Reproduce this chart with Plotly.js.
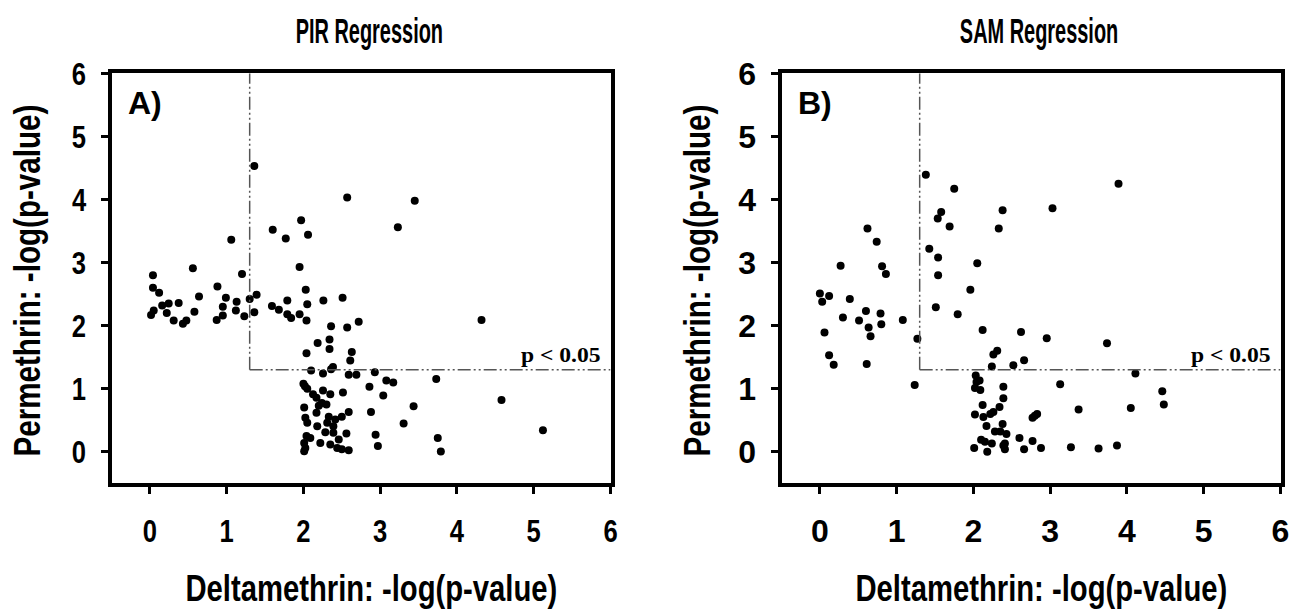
<!DOCTYPE html>
<html>
<head>
<meta charset="utf-8">
<script src="https://cdn.plot.ly/plotly-3.0.1.min.js"></script>
<style>html,body{margin:0;padding:0;background:#fff;}#chart{width:1291px;height:609px;}</style>
</head>
<body>
<div id="chart"></div>
<script>
// PIR regression (panel A): Deltamethrin -log(p) vs Permethrin -log(p)
const pirX = [1.36,2.57,1.97,1.60,1.77,2.06,1.06,1.95,0.56,0.04,1.20,3.45,3.23,0.04,0.12,0.88,0.64,0.99,1.13,1.30,
  1.39,0.375,0.245,0.16,0.05,0.015,0.22,0.31,0.43,0.475,0.58,0.95,0.95,0.87,1.12,1.23,1.36,1.59,1.68,1.79,
  1.79,1.84,1.95,2.03,2.05,2.04,2.26,2.51,2.36,2.57,2.72,2.185,2.34,2.34,2.04,2.63,2.61,2.10,2.255,2.36,
  2.385,2.59,2.69,2.93,2.00,2.02,2.05,2.86,3.08,3.17,2.255,2.125,2.17,2.35,2.24,2.20,2.30,2.515,3.04,3.435,
  2.01,2.17,2.59,2.88,2.025,2.33,2.415,2.50,2.05,2.18,2.31,2.39,3.305,2.285,2.39,2.56,2.94,2.04,2.09,2.01,
  2.22,2.35,2.46,2.025,2.01,2.44,2.50,2.59,2.97,3.73,4.32,4.58,3.75,3.79,5.12];
const pirY = [4.53,4.03,3.67,3.52,3.38,3.44,3.36,2.93,2.91,2.80,2.82,3.98,3.56,2.60,2.52,2.62,2.46,2.44,2.38,2.42,
  2.49,2.36,2.35,2.32,2.24,2.17,2.20,2.08,2.03,2.08,2.22,2.30,2.16,2.09,2.24,2.15,2.21,2.31,2.25,2.40,
  2.18,2.12,2.18,2.57,2.34,2.08,2.40,2.44,1.99,1.97,2.06,1.725,1.78,1.63,1.56,1.58,1.445,1.29,1.24,1.31,
  1.345,1.22,1.22,1.26,1.08,1.04,1.00,1.03,1.13,1.10,0.97,0.91,0.855,0.91,0.775,0.73,0.75,0.94,0.89,0.72,
  0.70,0.62,0.63,0.63,0.54,0.555,0.51,0.555,0.46,0.405,0.46,0.405,0.45,0.31,0.30,0.29,0.27,0.25,0.22,0.14,
  0.14,0.115,0.195,0.06,0.01,0.06,0.04,0.025,0.09,1.155,2.09,0.82,0.22,0.005,0.34];

// SAM regression (panel B)
const samX = [1.38,1.75,2.38,2.33,1.58,1.535,1.69,0.62,0.74,1.425,1.54,2.05,0.27,0.81,0.86,1.54,3.89,3.03,0.00,0.03,
  0.12,0.39,1.96,1.51,1.795,0.30,0.51,0.60,0.635,0.66,0.79,0.80,1.08,0.06,0.12,0.18,0.61,1.27,1.235,2.12,
  2.62,2.31,2.26,2.24,2.52,2.66,2.03,2.04,2.02,2.09,2.39,2.39,2.12,2.34,2.02,2.13,2.22,2.17,2.38,2.28,
  2.35,2.43,2.60,2.10,2.15,2.24,2.39,2.41,2.01,2.18,2.66,2.955,3.13,3.37,2.26,2.83,2.80,2.77,2.77,2.88,
  3.27,3.74,4.11,4.46,4.48,4.05,3.63,3.87,2.08,2.41];
const samY = [4.39,4.17,3.83,3.54,3.80,3.70,3.57,3.54,3.33,3.22,3.08,2.99,2.95,2.94,2.82,2.80,4.25,3.86,2.51,2.38,
  2.47,2.42,2.57,2.29,2.18,2.13,2.08,2.23,1.97,1.83,2.19,2.02,2.09,1.89,1.53,1.38,1.39,1.79,1.06,1.93,
  1.90,1.60,1.54,1.35,1.37,1.45,1.21,1.105,1.01,0.98,1.03,0.85,0.74,0.71,0.59,0.55,0.60,0.41,0.44,0.32,
  0.32,0.28,0.22,0.19,0.16,0.13,0.10,0.04,0.06,0.00,0.04,1.80,1.07,0.67,0.63,0.60,0.57,0.54,0.17,0.06,
  0.07,1.72,1.24,0.96,0.75,0.695,0.05,0.10,1.13,0.13];

const panelTitles = ["PIR Regression", "SAM Regression"];
const panelLetters = ["A)", "B)"];
const xTitle = "Deltamethrin: -log(p-value)";
const yTitle = "Permethrin: -log(p-value)";
const tickVals = [0,1,2,3,4,5,6];
const tickText = ["0","1","2","3","4","5","6"];
const threshold = 1.3;
const thresholdLabel = "p < 0.05";

const SANS = "Liberation Sans, Arial, sans-serif";
const SERIF = "Liberation Serif, Times New Roman, serif";

const xDom = [[111.5/1291, 610.5/1291],[781.5/1291, 1280.5/1291]];
const yDom = [(609-483.3)/609, (609-73.3)/609];

function axisX(i){
  return {domain: xDom[i], range:[-0.5,6], anchor: i===0?'y':'y2',
    showline:true, linewidth:4, linecolor:'#000', mirror:true,
    ticks:'outside', ticklen:7, tickwidth:3, tickcolor:'#000',
    tickvals:tickVals, ticktext:tickText, showgrid:false, zeroline:false,
    tickfont:{family:SANS, size:32, color:'#000', weight:'bold'}, ticklabelstandoff:9, fixedrange:true};
}
function axisY(i){
  return {domain: yDom, range:[-0.5,6], anchor: i===0?'x':'x2',
    showline:true, linewidth:4, linecolor:'#000', mirror:true,
    ticks:'outside', ticklen:7, tickwidth:3, tickcolor:'#000',
    tickvals:tickVals, ticktext:tickText, showgrid:false, zeroline:false,
    tickfont:{family:SANS, size:32, color:'#000', weight:'bold'}, ticklabelstandoff:8, fixedrange:true};
}

const marker = {color:'#000', size:8, symbol:'circle', line:{width:0}};
const data = [
  {x:pirX, y:pirY, xaxis:'x', yaxis:'y', type:'scatter', mode:'markers', marker:marker, hoverinfo:'x+y'},
  {x:samX, y:samY, xaxis:'x2', yaxis:'y2', type:'scatter', mode:'markers', marker:marker, hoverinfo:'x+y'}
];

const dash = '13px,3px,2px,3px,2px,3px';
const shapes = [];
const annotations = [];
['', '2'].forEach((s, i) => {
  shapes.push({type:'line', xref:'x'+s, yref:'y'+s, x0:threshold, x1:threshold, y0:threshold, y1:6,
    line:{color:'#555', width:1.5, dash:dash}});
  shapes.push({type:'line', xref:'x'+s, yref:'y'+s, x0:threshold, x1:6, y0:threshold, y1:threshold,
    line:{color:'#555', width:1.5, dash:dash}});
  const cx = (xDom[i][0]+xDom[i][1])/2;
  annotations.push({text:panelTitles[i], xref:'paper', yref:'paper', x:cx+8/1291, y:(609-30)/609,
    xanchor:'center', yanchor:'middle', showarrow:false, name:'sx0.57', font:{family:SANS, size:35, color:'#000', weight:'bold'}});
  annotations.push({text:panelLetters[i], xref:'paper', yref:'paper', x:xDom[i][0]+14/1291, y:(609-103)/609,
    xanchor:'left', yanchor:'middle', showarrow:false, font:{family:SANS, size:32, color:'#000', weight:'bold'}});
  annotations.push({text:thresholdLabel, xref:'paper', yref:'paper', x:xDom[i][1]-8/1291, y:(609-355)/609,
    xanchor:'right', yanchor:'middle', showarrow:false, name:'ex1.18', font:{family:SERIF, size:20, color:'#000', weight:'bold'}});
  annotations.push({text:xTitle, xref:'paper', yref:'paper', x:cx+10/1291, y:(609-588)/609,
    xanchor:'center', yanchor:'middle', showarrow:false, name:'sx0.79', font:{family:SANS, size:37, color:'#000', weight:'bold'}});
  annotations.push({text:yTitle, xref:'paper', yref:'paper', x:xDom[i][0]-84/1291, y:(609-281)/609,
    xanchor:'center', yanchor:'middle', textangle:-90, showarrow:false, name:'sx0.8', font:{family:SANS, size:37, color:'#000', weight:'bold'}});
});

const layout = {
  width:1291, height:609, margin:{l:0,r:0,t:0,b:0},
  paper_bgcolor:'#fff', plot_bgcolor:'#fff', showlegend:false,
  xaxis:axisX(0), yaxis:axisY(0), xaxis2:axisX(1), yaxis2:axisY(1),
  shapes:shapes, annotations:annotations
};

// horizontally rescale text (the reference uses a narrow bold face)
function condense(el, s, anchor){
  const bb = el.getBBox();
  const cx = anchor==='end' ? bb.x+bb.width : bb.x+bb.width/2;
  const t = el.getAttribute('transform') || '';
  el.setAttribute('transform', t+' translate('+cx+',0) scale('+s+',1) translate('+(-cx)+',0)');
}
Plotly.newPlot('chart', data, layout, {staticPlot:true, displayModeBar:false}).then(gd => {
  gd.querySelectorAll('.xtick text').forEach(el => condense(el, 0.8, 'middle'));
  gd.querySelectorAll('.ytick text').forEach(el => condense(el, 0.8, 'end'));
  const anns = gd.querySelectorAll('.annotation');
  anns.forEach((g, k) => {
    const a = layout.annotations[k];
    if (a && a.name) {
      const mode = a.name[0]==='e' ? 'end' : 'middle';
      const s = parseFloat(a.name.slice(2));
      g.querySelectorAll('text.annotation-text').forEach(el => condense(el, s, mode));
    }
  });
});
</script>
</body>
</html>
